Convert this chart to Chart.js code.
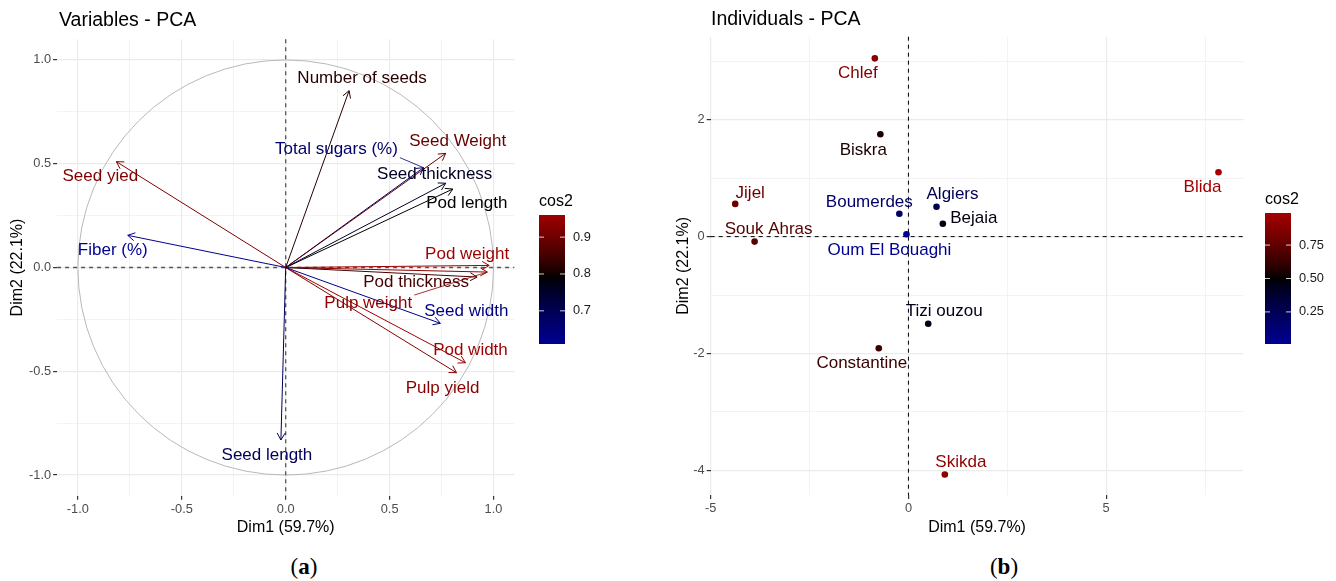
<!DOCTYPE html>
<html>
<head>
<meta charset="utf-8">
<script src="https://cdn.jsdelivr.net/npm/chart.js@4.4.1/dist/chart.umd.min.js"></script>
<style>
  html, body { margin: 0; padding: 0; background: #fff; }
  #wrap { position: relative; width: 1336px; height: 581px; overflow: hidden; }
  canvas { position: absolute; top: 0; }
  #varChart { left: 0; }
  #indChart { left: 660px; }
  .cap { position: absolute; top: 554px; font-family: "Liberation Serif", serif; font-size: 23px; transform: translateX(-50%); }
</style>
</head>
<body>
<div id="wrap">
  <canvas id="varChart" width="620" height="545"></canvas>
  <canvas id="indChart" width="676" height="545"></canvas>
  <div class="cap" style="left:304px">(<b>a</b>)</div>
  <div class="cap" style="left:1004px">(<b>b</b>)</div>
</div>
<script>
// ---- panel (a): variables ----
const varNames = ["Number of seeds", "Seed Weight", "Total sugars (%)", "Seed thickness", "Pod length",
  "Seed yied", "Fiber (%)", "Pod weight", "Pod thickness", "Pulp weight", "Seed width", "Pod width",
  "Pulp yield", "Seed length"];
const varDim1 = [0.305, 0.77, 0.663, 0.77, 0.804, -0.815, -0.76, 0.979, 0.921, 0.97, 0.744, 0.865, 0.822, -0.023];
const varDim2 = [0.852, 0.55, 0.481, 0.406, 0.378, 0.51, 0.155, 0.01, -0.046, -0.022, -0.269, -0.459, -0.507, -0.831];
const varCos2 = [0.82, 0.89, 0.67, 0.76, 0.79, 0.92, 0.61, 0.96, 0.85, 0.94, 0.63, 0.96, 0.93, 0.69];
const varGrid = [-1, -0.75, -0.5, -0.25, 0, 0.25, 0.5, 0.75, 1];
const varMajor = [-1, -0.5, 0, 0.5, 1];
const varLegendTicks = [0.7, 0.8, 0.9];

// ---- panel (b): individuals ----
const indNames = ["Chlef", "Biskra", "Blida", "Jijel", "Souk Ahras", "Boumerdes", "Algiers", "Bejaia",
  "Oum El Bouaghi", "Tizi ouzou", "Constantine", "Skikda"];
const indDim1 = [-0.85, -0.71, 7.84, -4.38, -3.89, -0.23, 0.71, 0.87, -0.05, 0.50, -0.75, 0.92];
const indDim2 = [3.05, 1.75, 1.10, 0.56, -0.085, 0.39, 0.51, 0.22, 0.04, -1.49, -1.91, -4.07];
const indCos2 = [0.86, 0.55, 0.99, 0.78, 0.72, 0.18, 0.26, 0.47, 0.01, 0.45, 0.63, 0.90];
const indXGrid = [-5, -2.5, 0, 2.5, 5, 7.5];
const indXMajor = [-5, 0, 5];
const indYGrid = [-4, -3, -2, -1, 0, 1, 2, 3];
const indYMajor = [-4, -2, 0, 2];
const indLegendTicks = [0.25, 0.5, 0.75];

// where the repelled labels ended up, in pixels from their point
const varLabelShift = [[13, -12], [12, -12], [-87, -18], [-11, -9], [14, 14], [-16, 15], [-15, 15],
  [-22, -11], [-61, 5], [-119, 31], [26, -12], [5, -12], [-14, 16], [-14, 15]];
const indLabelShift = [[-17, 15], [-17, 16], [-16, 15], [15, -11], [14, -12], [-30, -12], [16, -12],
  [31, -5], [-17, 16], [16, -12], [-17, 15], [16, -12]];

const FONT = '"Liberation Sans", Arial, sans-serif';
const LOW = [0, 0, 145], HIGH = [165, 0, 0];

function cosColor(v, lo, hi, mid) {
  const span = Math.max(mid - lo, hi - mid);
  let t = (v - mid) / span;
  const end = t < 0 ? LOW : HIGH;
  t = Math.pow(Math.min(Math.abs(t), 1), 0.8);
  return "rgb(" + end.map(c => Math.round(c * t)).join(",") + ")";
}

function axis(grid, majors, fmt, min, max, title, titlePad, size, horizontal) {
  const isMajor = c => c.tick && majors.includes(c.tick.value);
  return {
    type: "linear", min: min, max: max,
    afterBuildTicks: s => { s.ticks = grid.map(v => ({ value: v })); },
    afterFit: s => { if (horizontal) s.height = size; else s.width = size; },
    ticks: {
      autoSkip: false, maxRotation: 0, padding: 2, color: "#4d4d4d",
      font: { family: FONT, size: 12.8 },
      callback: v => majors.includes(v) ? fmt(v) : ""
    },
    grid: {
      color: "#ebebeb",
      lineWidth: c => isMajor(c) ? 1.2 : 0.6,
      tickLength: 4,
      tickColor: c => isMajor(c) ? "#333333" : "rgba(0,0,0,0)"
    },
    border: { display: false },
    title: { display: true, text: title, color: "#000", font: { family: FONT, size: 16 }, padding: titlePad }
  };
}

function drawTitle(ctx, text, x, y) {
  ctx.save();
  ctx.font = "19.5px " + FONT;
  ctx.fillStyle = "#000";
  ctx.textAlign = "left";
  ctx.textBaseline = "middle";
  ctx.fillText(text, x, y);
  ctx.restore();
}

function drawColorbar(ctx, x, top, w, h, values, mid, ticks, fmt) {
  const lo = Math.min(...values), hi = Math.max(...values);
  ctx.save();
  const g = ctx.createLinearGradient(0, top, 0, top + h);
  for (let k = 0; k <= 40; k++) {
    g.addColorStop(k / 40, cosColor(hi - (hi - lo) * k / 40, lo, hi, mid));
  }
  ctx.fillStyle = g;
  ctx.fillRect(x, top, w, h);
  ctx.font = "12.8px " + FONT;
  ctx.textBaseline = "middle";
  ctx.textAlign = "left";
  ticks.forEach(t => {
    const ty = top + h * (hi - t) / (hi - lo);
    ctx.strokeStyle = "rgba(255,255,255,0.8)";
    ctx.lineWidth = 1;
    ctx.beginPath();
    ctx.moveTo(x, ty); ctx.lineTo(x + 5, ty);
    ctx.moveTo(x + w - 5, ty); ctx.lineTo(x + w, ty);
    ctx.stroke();
    ctx.fillStyle = "#1a1a1a";
    ctx.fillText(fmt(t), x + w + 8, ty);
  });
  ctx.font = "16px " + FONT;
  ctx.fillStyle = "#000";
  ctx.textBaseline = "alphabetic";
  ctx.fillText("cos2", x, top - 9);
  ctx.restore();
}

function drawZeroLines(chart, color, width) {
  const { ctx, chartArea: a, scales: { x, y } } = chart;
  const x0 = x.getPixelForValue(0), y0 = y.getPixelForValue(0);
  ctx.save();
  ctx.setLineDash([4, 4]);
  ctx.strokeStyle = color;
  ctx.lineWidth = width;
  ctx.beginPath();
  ctx.moveTo(a.left, y0); ctx.lineTo(a.right, y0);
  ctx.moveTo(x0, a.top); ctx.lineTo(x0, a.bottom);
  ctx.stroke();
  ctx.restore();
}

function drawLabel(ctx, text, color, px, py, shift) {
  const lx = px + shift[0], ly = py + shift[1];
  ctx.font = "17px " + FONT;
  const w = ctx.measureText(text).width, hh = 8;
  // ggrepel style segment when the label sits away from its point
  const cx = Math.max(lx - w / 2, Math.min(px, lx + w / 2));
  const cy = Math.max(ly - hh, Math.min(py, ly + hh));
  if (Math.hypot(px - cx, py - cy) > 14) {
    ctx.strokeStyle = color;
    ctx.lineWidth = 0.8;
    ctx.beginPath();
    ctx.moveTo(cx + 2, cy); ctx.lineTo(px, py);
    ctx.stroke();
  }
  ctx.fillStyle = color;
  ctx.textAlign = "center";
  ctx.textBaseline = "middle";
  ctx.fillText(text, lx, ly);
}

const varMid = 0.79, indMid = 0.5;
const varLo = Math.min(...varCos2), varHi = Math.max(...varCos2);
const indLo = Math.min(...indCos2), indHi = Math.max(...indCos2);
const varColors = varCos2.map(v => cosColor(v, varLo, varHi, varMid));
const indColors = indCos2.map(v => cosColor(v, indLo, indHi, indMid));

const varDecor = {
  id: "varDecor",
  beforeDatasetsDraw(chart) {
    const { ctx, scales: { x, y } } = chart;
    const x0 = x.getPixelForValue(0), y0 = y.getPixelForValue(0);
    ctx.save();
    ctx.strokeStyle = "#b8b8b8";
    ctx.lineWidth = 1;
    ctx.beginPath();
    ctx.ellipse(x0, y0, x.getPixelForValue(1) - x0, y0 - y.getPixelForValue(1), 0, 0, Math.PI * 2);
    ctx.stroke();
    ctx.restore();
    drawZeroLines(chart, "#555555", 1.3);
  },
  afterDatasetsDraw(chart) {
    const ctx = chart.ctx;
    ctx.save();
    varNames.forEach((name, i) => {
      const pts = chart.getDatasetMeta(i).data;
      const p0 = pts[0], p1 = pts[1];
      const ang = Math.atan2(p1.y - p0.y, p1.x - p0.x);
      ctx.strokeStyle = varColors[i];
      ctx.lineWidth = 1;
      ctx.beginPath();
      ctx.moveTo(p1.x - 8 * Math.cos(ang - Math.PI / 6), p1.y - 8 * Math.sin(ang - Math.PI / 6));
      ctx.lineTo(p1.x, p1.y);
      ctx.lineTo(p1.x - 8 * Math.cos(ang + Math.PI / 6), p1.y - 8 * Math.sin(ang + Math.PI / 6));
      ctx.stroke();
    });
    varNames.forEach((name, i) => {
      const p1 = chart.getDatasetMeta(i).data[1];
      drawLabel(ctx, name, varColors[i], p1.x, p1.y, varLabelShift[i]);
    });
    ctx.restore();
    drawColorbar(ctx, 539, 215, 26, 129, varCos2, varMid, varLegendTicks, v => v.toFixed(1));
    drawTitle(ctx, "Variables - PCA", 59, 21);
  }
};

const indDecor = {
  id: "indDecor",
  beforeDatasetsDraw(chart) {
    drawZeroLines(chart, "#000000", 1);
  },
  afterDatasetsDraw(chart) {
    const ctx = chart.ctx;
    const pts = chart.getDatasetMeta(0).data;
    ctx.save();
    indNames.forEach((name, i) => {
      drawLabel(ctx, name, indColors[i], pts[i].x, pts[i].y, indLabelShift[i]);
    });
    ctx.restore();
    drawColorbar(ctx, 605, 213, 26, 131, indCos2, indMid, indLegendTicks, v => v.toFixed(2));
    drawTitle(ctx, "Individuals - PCA", 51, 20);
  }
};

new Chart(document.getElementById("varChart"), {
  type: "scatter",
  data: {
    datasets: varNames.map((n, i) => ({
      label: n,
      data: [{ x: 0, y: 0 }, { x: varDim1[i], y: varDim2[i] }],
      showLine: true,
      borderColor: varColors[i],
      borderWidth: 1,
      pointRadius: 0,
      fill: false
    }))
  },
  options: {
    responsive: false,
    animation: false,
    devicePixelRatio: 1,
    layout: { padding: { top: 39.2, right: 105.7, bottom: 0, left: 0 } },
    scales: {
      x: axis(varGrid, varMajor, v => v.toFixed(1), -1.1, 1.1, "Dim1 (59.7%)", { top: 0, bottom: 7.4 }, 49.2, true),
      y: axis(varGrid, varMajor, v => v.toFixed(1), -1.1, 1.1, "Dim2 (22.1%)", { top: 8.4, bottom: 0 }, 57.1, false)
    },
    plugins: { legend: { display: false }, tooltip: { enabled: false } }
  },
  plugins: [varDecor]
});

new Chart(document.getElementById("indChart"), {
  type: "scatter",
  data: {
    datasets: [{
      label: "Individuals",
      data: indNames.map((n, i) => ({ x: indDim1[i], y: indDim2[i] })),
      pointBackgroundColor: indColors,
      pointBorderWidth: 0,
      pointRadius: 3.3
    }]
  },
  options: {
    responsive: false,
    animation: false,
    devicePixelRatio: 1,
    layout: { padding: { top: 36.7, right: 92.6, bottom: 0, left: 0 } },
    scales: {
      x: axis(indXGrid, indXMajor, v => String(v), -5, 8.47, "Dim1 (59.7%)", { top: 0, bottom: 7.4 }, 50, true),
      y: axis(indYGrid, indYMajor, v => String(v), -4.42, 3.42, "Dim2 (22.1%)", { top: 14.4, bottom: 0 }, 50.7, false)
    },
    plugins: { legend: { display: false }, tooltip: { enabled: false } }
  },
  plugins: [indDecor]
});
</script>
</body>
</html>
